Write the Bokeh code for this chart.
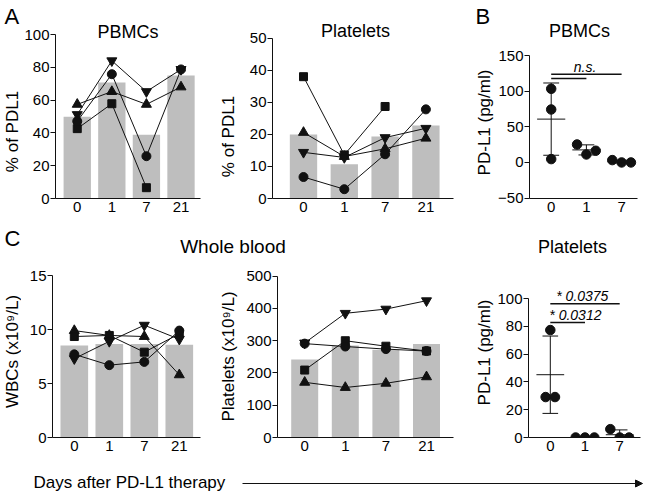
import numpy as np
from bokeh.plotting import figure
from bokeh.layouts import row, column
from bokeh.models import Label, FixedTicker, Arrow, NormalHead, Range1d
from bokeh.embed import file_html
from bokeh.resources import INLINE

nan = float("nan")
FONT = "Liberation Sans"
BAR = "#bebebe"
INK = "#111111"

# ---------------- data ----------------
days4 = ["0", "1", "7", "21"]
days3 = ["0", "1", "7"]

# A - PBMCs, % of PDL1
a_pbmc_bars = [49.8, 70.7, 38.9, 75.0]
a_pbmc_square = [42.6, 57.8, 6.6, nan]
a_pbmc_circle = [47.1, 75.8, 25.8, 78.7]
a_pbmc_triangle = [57.4, 65.2, 57.4, 68.0]
a_pbmc_invtri = [51.2, 84.0, 65.2, 78.7]
a_pbmc_ticks = [0, 20, 40, 60, 80, 100]

# A - Platelets, % of PDL1
a_plt_bars = [20.0, 10.7, 19.3, 22.8]
a_plt_square = [38.0, 13.6, 28.7, nan]
a_plt_circle = [6.7, 2.9, 13.8, 27.8]
a_plt_triangle = [20.6, 13.1, 15.5, 18.8]
a_plt_invtri = [14.4, 12.8, 19.0, 21.9]
a_plt_ticks = [0, 10, 20, 30, 40, 50]

# B - PBMCs, PD-L1 (pg/ml)
b_pbmc_day0 = [103.3, 74.3, 4.7]
b_pbmc_day1 = [25.2, 11.2, 16.4]
b_pbmc_day7 = [3.3, 0.0, 0.0]
b_ticks = [-50, 0, 50, 100, 150]
b_sig_pairs = [(0, 2), (0, 1)]
b_sig_text = "n.s."

# C - Whole blood WBCs
c_wbc_bars = [8.52, 8.65, 8.65, 8.58]
c_wbc_square = [9.35, 9.45, 7.9, 9.6]
c_wbc_circle = [7.7, 6.7, 7.0, 9.9]
c_wbc_triangle = [9.9, 9.45, 9.35, 5.8]
c_wbc_invtri = [7.3, 8.9, 10.4, 9.1]
c_wbc_ticks = [0, 5, 10, 15]

# C - Whole blood platelets
c_plt_bars = [242, 285, 272, 290]
c_plt_square = [209, 300, 283, 268]
c_plt_circle = [291, 282, 274, 268]
c_plt_triangle = [171, 155, 168, 188]
c_plt_invtri = [293, 385, 398, 424]
c_plt_ticks = [0, 100, 200, 300, 400, 500]

# C - Platelets PD-L1 (pg/ml)
c_pdl1_day0 = [77.3, 29.1, 29.1]
c_pdl1_day1 = [0.0, 0.0, 0.0]
c_pdl1_day7 = [6.0, 0.0, 0.0]
c_pdl1_ticks = [0, 20, 40, 60, 80, 100]
c_sig_pairs = [(0, 2), (0, 1)]
c_sig_text = ["* 0.0375", "* 0.0312"]


# ---------------- layout helpers (page pixels) ----------------
def yr_from(v0, p0, v1, p1, T, B):
    k = (p0 - p1) / (v1 - v0)
    return (v0 - (B - p0) / k, v0 + (p0 - T) / k)


def xr_from(c0, sp, L, R):
    return ((L - c0) / sp, (R - c0) / sp)


def make_panel(fig_x, fig_y, w, h, L, R, T, B, xr, yr):
    """Figure whose plot frame sits at page pixels L..R, T..B."""
    p = figure(width=w, height=h, x_range=Range1d(*xr), y_range=Range1d(*yr),
               min_border_left=L - fig_x, min_border_right=fig_x + w - R,
               min_border_top=T - fig_y, min_border_bottom=fig_y + h - B,
               toolbar_location=None, output_backend="svg")
    p.outline_line_color = None
    p.xgrid.visible = False
    p.ygrid.visible = False
    p.background_fill_color = "white"
    p.border_fill_color = "white"

    def fx(px):
        return xr[0] + (px - L) / (R - L) * (xr[1] - xr[0])

    def fy(py):
        return yr[0] + (B - py) / (B - T) * (yr[1] - yr[0])
    return p, fx, fy


def blank(x0, x1, y0, y1, top=0, bottom=0):
    """Axis-less strip over page pixels x0..x1, y0..y1; data coords = page pixels."""
    p = figure(width=x1 - x0, height=y1 - y0,
               x_range=Range1d(x0, x1), y_range=Range1d(y1 - bottom, y0 + top),
               min_border=0, min_border_left=0, min_border_right=0,
               min_border_top=top, min_border_bottom=bottom,
               toolbar_location=None, output_backend="svg",
               x_axis_type=None, y_axis_type=None)
    p.outline_line_color = None
    p.xgrid.visible = False
    p.ygrid.visible = False
    return p


def style_axes(p, xlabels, yticks):
    xa = p.xaxis[0]
    ya = p.yaxis[0]
    xa.ticker = FixedTicker(ticks=list(range(len(xlabels))))
    xa.major_label_overrides = {i: s for i, s in enumerate(xlabels)}
    xa.major_tick_out = 0
    xa.major_tick_in = 0
    xa.major_label_standoff = 3
    ya.ticker = FixedTicker(ticks=yticks)
    ya.bounds = (yticks[0], yticks[-1])
    ya.major_tick_out = 5
    ya.major_tick_in = 0
    ya.major_label_standoff = 1
    for ax in (xa, ya):
        ax.minor_tick_out = 0
        ax.minor_tick_in = 0
        ax.axis_line_color = INK
        ax.axis_line_width = 1
        ax.major_tick_line_color = INK
        ax.major_label_text_font = FONT
        ax.major_label_text_font_size = "15px"
        ax.major_label_text_color = "black"


def txt(p, x, y, text, size, align="left", angle=0.0, style="normal"):
    p.add_layout(Label(x=x, y=y, text=text, text_font=FONT, text_font_size=f"{size}px",
                       text_align=align, text_baseline="middle", angle=angle,
                       text_color="black", text_font_style=style))


def draw_bars_lines(p, bars, series, bw):
    x = list(range(len(bars)))
    p.vbar(x=x, top=bars, bottom=0, width=bw, fill_color=BAR, line_color=None)
    for vals, marker, size in series:
        p.line(x, vals, line_color=INK, line_width=1)
    for vals, marker, size in series:
        p.scatter(x, vals, marker=marker, size=size, fill_color=INK, line_color=INK)


def swarm(vals, thresh, step):
    vals = np.asarray(vals, dtype=float)
    order = np.argsort(-vals, kind="stable")
    clusters = []
    for i in order:
        if clusters and abs(vals[clusters[-1][-1]] - vals[i]) <= thresh:
            clusters[-1].append(i)
        else:
            clusters.append([i])
    off = np.zeros(len(vals))
    for cl in clusters:
        cl = sorted(cl)
        k = len(cl)
        for j, i in enumerate(cl):
            off[i] = (j - (k - 1) / 2) * step
    return off


def draw_dots(p, groups, thresh, step, mean_w=0.8, cap_w=0.45):
    for gi, vals in enumerate(groups):
        off = swarm(vals, thresh, step)
        p.scatter(gi + off, vals, marker="circle", size=9.5, fill_color=INK, line_color=INK)
        m = float(np.mean(vals))
        s = float(np.std(vals, ddof=1))
        p.segment(x0=[gi, gi - cap_w / 2, gi - cap_w / 2, gi - mean_w / 2],
                  y0=[m - s, m + s, m - s, m],
                  x1=[gi, gi + cap_w / 2, gi + cap_w / 2, gi + mean_w / 2],
                  y1=[m + s, m + s, m - s, m],
                  line_color=INK, line_width=1)


def sig_lines(p, pairs, heights, width):
    p.segment(x0=[a for a, b in pairs], x1=[b for a, b in pairs], y0=heights, y1=heights,
              line_color=INK, line_width=width)


HALF_PI = np.pi / 2
AX = 17   # axis-title size
TI = 18   # panel title size
MARKERS = [("square", 8), ("triangle", 10), ("inverted_triangle", 10), ("circle", 9)]

# ---------------- row A / B  (page y 0..220, frame 0..198) ----------------
LA1 = blank(0, 21, 0, 220, bottom=22)
txt(LA1, 4, 16, "A", 22)
txt(LA1, 11.5, 131, "% of PDL1", AX, align="center", angle=HALF_PI)

pA1, fx, fy = make_panel(21, 0, 194, 220, 52, 200, 0, 198,
                         xr_from(74.2, 35.3, 52, 200), yr_from(0, 198, 100, 34, 0, 198))
style_axes(pA1, days4, a_pbmc_ticks)
draw_bars_lines(pA1, a_pbmc_bars,
                [(v, m, s) for v, (m, s) in zip([a_pbmc_square, a_pbmc_triangle,
                                                 a_pbmc_invtri, a_pbmc_circle], MARKERS)], 0.79)
txt(pA1, fx(126), fy(31.3), "PBMCs", TI, align="center")

LA2 = blank(215, 239, 0, 220, bottom=22)
txt(LA2, 228, 136, "% of PDL1", AX, align="center", angle=HALF_PI)

pA2, fx, fy = make_panel(239, 0, 226, 220, 272, 453, 0, 198,
                         xr_from(303, 40.8, 272, 453), yr_from(0, 198, 50, 37.7, 0, 198))
style_axes(pA2, days4, a_plt_ticks)
draw_bars_lines(pA2, a_plt_bars,
                [(v, m, s) for v, (m, s) in zip([a_plt_square, a_plt_triangle,
                                                 a_plt_invtri, a_plt_circle], MARKERS)], 0.67)
txt(pA2, fx(355), fy(30.3), "Platelets", TI, align="center")

LB = blank(465, 494, 0, 220, bottom=22)
txt(LB, 475, 16, "B", 22)
txt(LB, 484, 122, "PD-L1 (pg/ml)", AX, align="center", angle=HALF_PI)

pB, fx, fy = make_panel(494, 0, 156, 220, 529, 637, 0, 198,
                        xr_from(550.7, 35.2, 529, 637), yr_from(-50, 197.6, 150, 55, 0, 198))
style_axes(pB, days3, b_ticks)
draw_dots(pB, [b_pbmc_day0, b_pbmc_day1, b_pbmc_day7], thresh=12.6, step=0.265)
sig_lines(pB, b_sig_pairs, [123.8, 117.8], 1.5)
txt(pB, fx(584.5), fy(66), b_sig_text, 14, align="center", style="italic")
txt(pB, fx(579), fy(30.3), "PBMCs", TI, align="center")

row1 = row(LA1, pA1, LA2, pA2, LB, pB)

# ---------------- strip with C headings (page y 220..262) ----------------
s2 = blank(0, 650, 220, 262)
txt(s2, 4, 237.5, "C", 22)
txt(s2, 232.5, 246, "Whole blood", 19, align="center")
txt(s2, 572, 246.5, "Platelets", TI, align="center")

# ---------------- row C (page y 262..460, frame 262..437) ----------------
LC1 = blank(0, 21, 262, 460, bottom=23)
txt(LC1, 11.5, 351, "WBCs (x10\u2079/L)", AX, align="center", angle=HALF_PI)

pC1, fx, fy = make_panel(21, 262, 194, 198, 52, 200, 262, 437,
                         xr_from(73.8, 35.0, 52, 200), yr_from(0, 437, 15, 275, 262, 437))
style_axes(pC1, days4, c_wbc_ticks)
draw_bars_lines(pC1, c_wbc_bars,
                [(v, m, s) for v, (m, s) in zip([c_wbc_square, c_wbc_triangle,
                                                 c_wbc_invtri, c_wbc_circle], MARKERS)], 0.79)

LC2 = blank(215, 239, 262, 460, bottom=23)
txt(LC2, 228, 356, "Platelets (x10\u2079/L)", AX, align="center", angle=HALF_PI)

pC2, fx, fy = make_panel(239, 262, 226, 198, 277, 453, 262, 437,
                         xr_from(304.2, 40.6, 277, 453), yr_from(0, 437, 500, 275.7, 262, 437))
style_axes(pC2, days4, c_plt_ticks)
draw_bars_lines(pC2, c_plt_bars,
                [(v, m, s) for v, (m, s) in zip([c_plt_square, c_plt_triangle,
                                                 c_plt_invtri, c_plt_circle], MARKERS)], 0.665)

LC3 = blank(465, 494, 262, 460, bottom=23)
txt(LC3, 484, 352, "PD-L1 (pg/ml)", AX, align="center", angle=HALF_PI)

pC3, fx, fy = make_panel(494, 262, 156, 198, 527, 640, 262, 437,
                         xr_from(549, 35.0, 527, 640), yr_from(0, 437, 100, 298, 262, 437))
style_axes(pC3, days3, c_pdl1_ticks)
draw_dots(pC3, [c_pdl1_day0, c_pdl1_day1, c_pdl1_day7], thresh=6.5, step=0.27)
sig_lines(pC3, c_sig_pairs, [96.2, 82.7], 1.5)
txt(pC3, fx(555), fy(295.6), c_sig_text[0], 14, style="italic")
txt(pC3, fx(548), fy(314.6), c_sig_text[1], 14, style="italic")

row2 = row(LC1, pC1, LC2, pC2, LC3, pC3)

# ---------------- bottom strip (page y 460..496) ----------------
s3 = blank(0, 650, 460, 496)
txt(s3, 33, 482, "Days after PD-L1 therapy", 17)
s3.add_layout(Arrow(end=NormalHead(size=7, fill_color=INK, line_color=INK),
                    x_start=242, y_start=483, x_end=642, y_end=483,
                    line_color=INK, line_width=1))

layout = column(row1, s2, row2, s3)

open("out.html", "w").write(file_html(layout, INLINE))
